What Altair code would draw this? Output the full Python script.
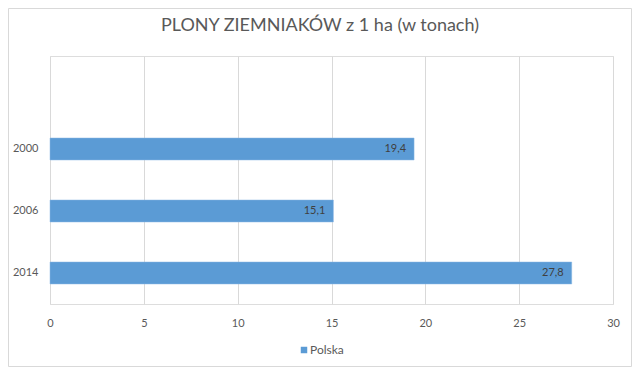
import altair as alt
import pandas as pd

years = ["2000", "2006", "2014"]
values = [19.4, 15.1, 27.8]
labels = ["19,4", "15,1", "27,8"]
series = ["Polska", "Polska", "Polska"]
y_domain = [" ", "2000", "2006", "2014"]
x_ticks = [0, 5, 10, 15, 20, 25, 30]
title_text = ["PLONY ZIEMNIAKÓW z 1 ha (w tonach)"]

df = pd.DataFrame({"year": years, "value": values, "label": labels, "series": series})

FONT = "Lato"
GREY = "#595959"

y_enc = alt.Y(
    "year:N",
    scale=alt.Scale(domain=y_domain, paddingInner=0.645, paddingOuter=0.3225),
    axis=alt.Axis(title=None, domain=False, ticks=False, tickSize=0, labelPadding=12,
                  labelFont=FONT, labelFontSize=11, labelColor=GREY),
)
x_enc = alt.X(
    "value:Q",
    scale=alt.Scale(domain=[0, 30], nice=False),
    axis=alt.Axis(title=None, values=x_ticks, domain=False, ticks=False, tickSize=0,
                  labelPadding=13, labelFont=FONT, labelFontSize=11, labelColor=GREY,
                  labelFlush=False, grid=True, gridColor="#d9d9d9", gridWidth=1),
)

bars = alt.Chart(df).mark_bar(color="#5B9BD5", stroke="#8db8e4", strokeWidth=0.5).encode(
    x=x_enc,
    y=y_enc,
    color=alt.Color(
        "series:N",
        scale=alt.Scale(domain=["Polska"], range=["#5B9BD5"]),
        legend=alt.Legend(title=None, orient="none", legendX=248, legendY=288,
                          symbolType="square", symbolSize=42, symbolStrokeWidth=0,
                          labelFont=FONT, labelFontSize=12, labelColor=GREY,
                          labelOffset=0, padding=0),
    ),
)

text = alt.Chart(df).mark_text(align="right", dx=-8, font=FONT, fontSize=11, color="#404040").encode(
    x="value:Q",
    y=alt.Y("year:N", scale=alt.Scale(domain=y_domain)),
    text="label:N",
)

border = alt.Chart(pd.DataFrame({"a": [0]})).mark_rect(
    fillOpacity=0, stroke="#d9d9d9", strokeWidth=1
).encode(
    x=alt.value(-41.5), x2=alt.value(581.5), y=alt.value(-47.5), y2=alt.value(310.5)
)

title = alt.Chart(pd.DataFrame({"t": title_text})).mark_text(
    font=FONT, fontSize=18, color=GREY, align="center", baseline="alphabetic"
).encode(
    x=alt.value(270), y=alt.value(-25), text="t:N"
)

chart = alt.layer(border, bars, text, title).properties(
    width=563,
    height=248,
    padding={"left": 42, "right": 19, "top": 48, "bottom": 63},
    autosize=alt.AutoSizeParams(type="none"),
).configure_view(stroke=None).configure(background="white")

chart.save("out.html", embed_options={"renderer": "svg", "actions": False})
